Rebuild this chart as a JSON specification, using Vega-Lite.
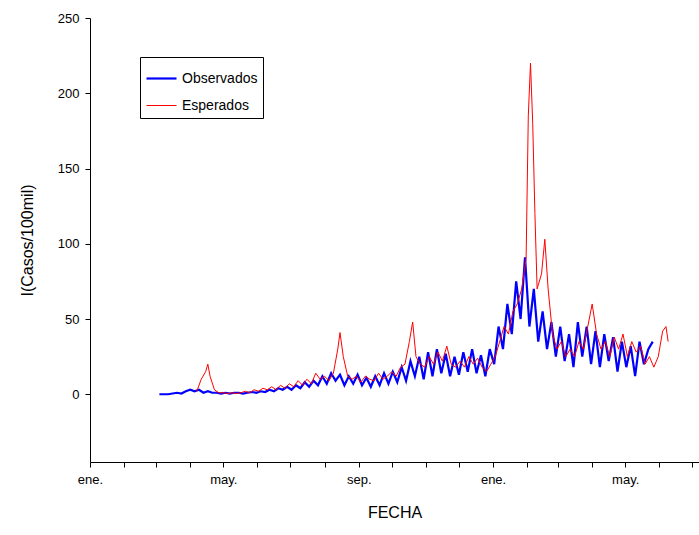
{
  "$schema": "https://vega.github.io/schema/vega-lite/v6.json",
  "width": 609,
  "height": 444,
  "autosize": "none",
  "padding": {"left": 90, "top": 18, "right": 0, "bottom": 73},
  "background": "white",
  "data": {"values": [
{"s":"Observados","d":"2020-03-04","v":0},{"s":"Observados","d":"2020-03-08","v":0},{"s":"Observados","d":"2020-03-12","v":0},{"s":"Observados","d":"2020-03-16","v":0.5},{"s":"Observados","d":"2020-03-20","v":1},{"s":"Observados","d":"2020-03-24","v":0.5},{"s":"Observados","d":"2020-03-28","v":2},{"s":"Observados","d":"2020-04-01","v":3},{"s":"Observados","d":"2020-04-05","v":2},{"s":"Observados","d":"2020-04-09","v":3},{"s":"Observados","d":"2020-04-13","v":1},{"s":"Observados","d":"2020-04-17","v":2},{"s":"Observados","d":"2020-04-21","v":1},{"s":"Observados","d":"2020-04-25","v":1},{"s":"Observados","d":"2020-04-29","v":0.5},{"s":"Observados","d":"2020-05-03","v":1},{"s":"Observados","d":"2020-05-07","v":0.5},{"s":"Observados","d":"2020-05-11","v":1},{"s":"Observados","d":"2020-05-15","v":1},{"s":"Observados","d":"2020-05-19","v":0.5},{"s":"Observados","d":"2020-05-23","v":1},{"s":"Observados","d":"2020-05-27","v":1.5},{"s":"Observados","d":"2020-05-31","v":1},{"s":"Observados","d":"2020-06-04","v":2},{"s":"Observados","d":"2020-06-08","v":1.5},{"s":"Observados","d":"2020-06-12","v":3},{"s":"Observados","d":"2020-06-16","v":2},{"s":"Observados","d":"2020-06-20","v":4},{"s":"Observados","d":"2020-06-24","v":3},{"s":"Observados","d":"2020-06-28","v":5},{"s":"Observados","d":"2020-07-02","v":3},{"s":"Observados","d":"2020-07-06","v":6},{"s":"Observados","d":"2020-07-10","v":4},{"s":"Observados","d":"2020-07-14","v":8},{"s":"Observados","d":"2020-07-18","v":5},{"s":"Observados","d":"2020-07-22","v":9},{"s":"Observados","d":"2020-07-26","v":6},{"s":"Observados","d":"2020-07-30","v":12},{"s":"Observados","d":"2020-08-03","v":7},{"s":"Observados","d":"2020-08-07","v":14},{"s":"Observados","d":"2020-08-11","v":9},{"s":"Observados","d":"2020-08-15","v":13},{"s":"Observados","d":"2020-08-19","v":6},{"s":"Observados","d":"2020-08-23","v":12},{"s":"Observados","d":"2020-08-27","v":7},{"s":"Observados","d":"2020-08-31","v":13},{"s":"Observados","d":"2020-09-04","v":6},{"s":"Observados","d":"2020-09-08","v":11},{"s":"Observados","d":"2020-09-12","v":5},{"s":"Observados","d":"2020-09-16","v":12},{"s":"Observados","d":"2020-09-20","v":6},{"s":"Observados","d":"2020-09-24","v":14},{"s":"Observados","d":"2020-09-28","v":7},{"s":"Observados","d":"2020-10-02","v":15},{"s":"Observados","d":"2020-10-06","v":8},{"s":"Observados","d":"2020-10-10","v":18},{"s":"Observados","d":"2020-10-14","v":9},{"s":"Observados","d":"2020-10-18","v":22},{"s":"Observados","d":"2020-10-22","v":12},{"s":"Observados","d":"2020-10-26","v":25},{"s":"Observados","d":"2020-10-30","v":10},{"s":"Observados","d":"2020-11-03","v":28},{"s":"Observados","d":"2020-11-07","v":12},{"s":"Observados","d":"2020-11-11","v":30},{"s":"Observados","d":"2020-11-15","v":14},{"s":"Observados","d":"2020-11-19","v":27},{"s":"Observados","d":"2020-11-23","v":12},{"s":"Observados","d":"2020-11-27","v":25},{"s":"Observados","d":"2020-12-01","v":13},{"s":"Observados","d":"2020-12-05","v":28},{"s":"Observados","d":"2020-12-09","v":15},{"s":"Observados","d":"2020-12-13","v":30},{"s":"Observados","d":"2020-12-17","v":14},{"s":"Observados","d":"2020-12-21","v":26},{"s":"Observados","d":"2020-12-25","v":12},{"s":"Observados","d":"2020-12-29","v":30},{"s":"Observados","d":"2021-01-02","v":20},{"s":"Observados","d":"2021-01-06","v":45},{"s":"Observados","d":"2021-01-10","v":30},{"s":"Observados","d":"2021-01-14","v":60},{"s":"Observados","d":"2021-01-18","v":40},{"s":"Observados","d":"2021-01-22","v":75},{"s":"Observados","d":"2021-01-26","v":50},{"s":"Observados","d":"2021-01-30","v":91},{"s":"Observados","d":"2021-02-03","v":45},{"s":"Observados","d":"2021-02-07","v":70},{"s":"Observados","d":"2021-02-11","v":35},{"s":"Observados","d":"2021-02-15","v":55},{"s":"Observados","d":"2021-02-19","v":30},{"s":"Observados","d":"2021-02-23","v":48},{"s":"Observados","d":"2021-02-27","v":25},{"s":"Observados","d":"2021-03-03","v":45},{"s":"Observados","d":"2021-03-07","v":22},{"s":"Observados","d":"2021-03-11","v":40},{"s":"Observados","d":"2021-03-15","v":18},{"s":"Observados","d":"2021-03-19","v":48},{"s":"Observados","d":"2021-03-23","v":25},{"s":"Observados","d":"2021-03-27","v":45},{"s":"Observados","d":"2021-03-31","v":20},{"s":"Observados","d":"2021-04-04","v":42},{"s":"Observados","d":"2021-04-08","v":18},{"s":"Observados","d":"2021-04-12","v":40},{"s":"Observados","d":"2021-04-16","v":22},{"s":"Observados","d":"2021-04-20","v":38},{"s":"Observados","d":"2021-04-24","v":15},{"s":"Observados","d":"2021-04-28","v":35},{"s":"Observados","d":"2021-05-02","v":18},{"s":"Observados","d":"2021-05-06","v":32},{"s":"Observados","d":"2021-05-10","v":12},{"s":"Observados","d":"2021-05-14","v":35},{"s":"Observados","d":"2021-05-18","v":20},{"s":"Observados","d":"2021-05-22","v":30},{"s":"Observados","d":"2021-05-26","v":35},
{"s":"Esperados","d":"2020-04-07","v":2},{"s":"Esperados","d":"2020-04-11","v":10},{"s":"Esperados","d":"2020-04-15","v":15},{"s":"Esperados","d":"2020-04-17","v":20},{"s":"Esperados","d":"2020-04-19","v":12},{"s":"Esperados","d":"2020-04-23","v":3},{"s":"Esperados","d":"2020-04-27","v":1},{"s":"Esperados","d":"2020-05-01","v":1},{"s":"Esperados","d":"2020-05-05","v":0.5},{"s":"Esperados","d":"2020-05-09","v":1},{"s":"Esperados","d":"2020-05-13","v":0.5},{"s":"Esperados","d":"2020-05-17","v":1},{"s":"Esperados","d":"2020-05-21","v":2},{"s":"Esperados","d":"2020-05-25","v":1},{"s":"Esperados","d":"2020-05-29","v":3},{"s":"Esperados","d":"2020-06-02","v":2},{"s":"Esperados","d":"2020-06-06","v":4},{"s":"Esperados","d":"2020-06-10","v":3},{"s":"Esperados","d":"2020-06-14","v":5},{"s":"Esperados","d":"2020-06-18","v":3},{"s":"Esperados","d":"2020-06-22","v":6},{"s":"Esperados","d":"2020-06-26","v":4},{"s":"Esperados","d":"2020-06-30","v":7},{"s":"Esperados","d":"2020-07-04","v":5},{"s":"Esperados","d":"2020-07-08","v":9},{"s":"Esperados","d":"2020-07-12","v":6},{"s":"Esperados","d":"2020-07-16","v":10},{"s":"Esperados","d":"2020-07-20","v":7},{"s":"Esperados","d":"2020-07-24","v":14},{"s":"Esperados","d":"2020-07-28","v":10},{"s":"Esperados","d":"2020-08-01","v":12},{"s":"Esperados","d":"2020-08-05","v":9},{"s":"Esperados","d":"2020-08-09","v":14},{"s":"Esperados","d":"2020-08-13","v":30},{"s":"Esperados","d":"2020-08-15","v":41},{"s":"Esperados","d":"2020-08-18","v":25},{"s":"Esperados","d":"2020-08-22","v":12},{"s":"Esperados","d":"2020-08-26","v":10},{"s":"Esperados","d":"2020-08-30","v":12},{"s":"Esperados","d":"2020-09-03","v":8},{"s":"Esperados","d":"2020-09-07","v":12},{"s":"Esperados","d":"2020-09-11","v":10},{"s":"Esperados","d":"2020-09-15","v":9},{"s":"Esperados","d":"2020-09-19","v":14},{"s":"Esperados","d":"2020-09-23","v":10},{"s":"Esperados","d":"2020-09-27","v":12},{"s":"Esperados","d":"2020-10-01","v":15},{"s":"Esperados","d":"2020-10-05","v":12},{"s":"Esperados","d":"2020-10-09","v":18},{"s":"Esperados","d":"2020-10-13","v":20},{"s":"Esperados","d":"2020-10-17","v":35},{"s":"Esperados","d":"2020-10-20","v":48},{"s":"Esperados","d":"2020-10-23","v":25},{"s":"Esperados","d":"2020-10-27","v":20},{"s":"Esperados","d":"2020-10-31","v":18},{"s":"Esperados","d":"2020-11-04","v":25},{"s":"Esperados","d":"2020-11-08","v":20},{"s":"Esperados","d":"2020-11-12","v":28},{"s":"Esperados","d":"2020-11-16","v":22},{"s":"Esperados","d":"2020-11-20","v":32},{"s":"Esperados","d":"2020-11-24","v":20},{"s":"Esperados","d":"2020-11-28","v":18},{"s":"Esperados","d":"2020-12-02","v":22},{"s":"Esperados","d":"2020-12-06","v":18},{"s":"Esperados","d":"2020-12-10","v":25},{"s":"Esperados","d":"2020-12-14","v":20},{"s":"Esperados","d":"2020-12-18","v":24},{"s":"Esperados","d":"2020-12-22","v":18},{"s":"Esperados","d":"2020-12-26","v":15},{"s":"Esperados","d":"2020-12-30","v":20},{"s":"Esperados","d":"2021-01-03","v":25},{"s":"Esperados","d":"2021-01-07","v":35},{"s":"Esperados","d":"2021-01-11","v":45},{"s":"Esperados","d":"2021-01-15","v":40},{"s":"Esperados","d":"2021-01-19","v":55},{"s":"Esperados","d":"2021-01-23","v":60},{"s":"Esperados","d":"2021-01-27","v":70},{"s":"Esperados","d":"2021-01-31","v":90},{"s":"Esperados","d":"2021-02-02","v":185},{"s":"Esperados","d":"2021-02-04","v":220},{"s":"Esperados","d":"2021-02-06","v":180},{"s":"Esperados","d":"2021-02-08","v":120},{"s":"Esperados","d":"2021-02-10","v":70},{"s":"Esperados","d":"2021-02-14","v":80},{"s":"Esperados","d":"2021-02-17","v":103},{"s":"Esperados","d":"2021-02-20","v":70},{"s":"Esperados","d":"2021-02-24","v":40},{"s":"Esperados","d":"2021-02-28","v":30},{"s":"Esperados","d":"2021-03-04","v":35},{"s":"Esperados","d":"2021-03-08","v":25},{"s":"Esperados","d":"2021-03-12","v":30},{"s":"Esperados","d":"2021-03-16","v":25},{"s":"Esperados","d":"2021-03-20","v":35},{"s":"Esperados","d":"2021-03-24","v":30},{"s":"Esperados","d":"2021-03-28","v":45},{"s":"Esperados","d":"2021-04-01","v":60},{"s":"Esperados","d":"2021-04-05","v":40},{"s":"Esperados","d":"2021-04-09","v":30},{"s":"Esperados","d":"2021-04-13","v":35},{"s":"Esperados","d":"2021-04-17","v":25},{"s":"Esperados","d":"2021-04-21","v":38},{"s":"Esperados","d":"2021-04-25","v":30},{"s":"Esperados","d":"2021-04-29","v":40},{"s":"Esperados","d":"2021-05-03","v":25},{"s":"Esperados","d":"2021-05-07","v":35},{"s":"Esperados","d":"2021-05-11","v":28},{"s":"Esperados","d":"2021-05-15","v":32},{"s":"Esperados","d":"2021-05-19","v":20},{"s":"Esperados","d":"2021-05-23","v":25},{"s":"Esperados","d":"2021-05-27","v":18},{"s":"Esperados","d":"2021-05-31","v":25},{"s":"Esperados","d":"2021-06-04","v":42},{"s":"Esperados","d":"2021-06-07","v":45},{"s":"Esperados","d":"2021-06-09","v":35}
  ]},
  "mark": {"type": "line"},
  "encoding": {
    "x": {
      "field": "d",
      "type": "temporal",
      "title": "FECHA",
      "scale": {"domain": ["2020-01-01", "2021-07-07"]},
      "axis": {
        "tickCount": {"interval": "month", "step": 1},
        "labelExpr": "month(datum.value)==0 ? 'ene.' : month(datum.value)==4 ? 'may.' : month(datum.value)==8 ? 'sep.' : ''",
        "grid": false,
        "labelFlush": false,
        "labelOverlap": false,
        "titlePadding": 18
      }
    },
    "y": {
      "field": "v",
      "type": "quantitative",
      "title": "I(Casos/100mil)",
      "scale": {"domain": [-45, 250], "nice": false},
      "axis": {"values": [0, 50, 100, 150, 200, 250], "grid": false, "titlePadding": 22}
    },
    "color": {
      "field": "s",
      "type": "nominal",
      "title": null,
      "scale": {"domain": ["Observados", "Esperados"], "range": ["#0000ff", "#ff0000"]},
      "legend": {
        "orient": "none",
        "legendX": 50,
        "legendY": 39,
        "symbolType": "stroke",
        "symbolSize": 900,
        "symbolStrokeWidth": 2,
        "strokeColor": "black",
        "padding": 5,
        "labelFontSize": 14,
        "rowPadding": 4
      }
    },
    "strokeWidth": {
      "field": "s",
      "type": "nominal",
      "scale": {"domain": ["Observados", "Esperados"], "range": [2.2, 1]},
      "legend": null
    },
    "order": {"field": "s", "sort": "descending"}
  },
  "config": {
    "font": "Liberation Sans",
    "view": {"stroke": null},
    "axis": {
      "domainColor": "black",
      "tickColor": "black",
      "labelColor": "black",
      "titleColor": "black",
      "labelFontSize": 13,
      "titleFontSize": 16,
      "titleFontWeight": "normal",
      "labelPadding": 6
    },
    "legend": {"labelColor": "black"}
  }
}
